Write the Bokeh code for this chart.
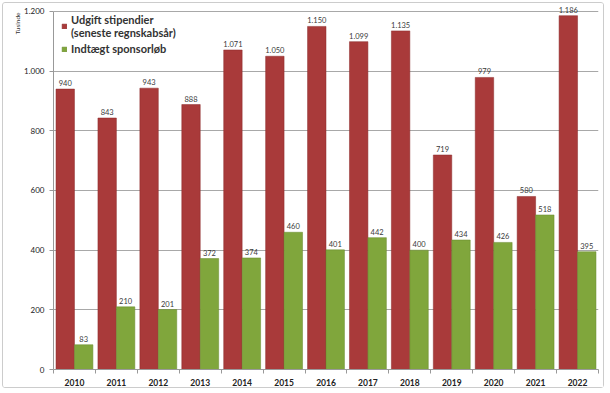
import numpy as np
from bokeh.plotting import figure
from bokeh.core.properties import value
from bokeh.models import (ColumnDataSource, FixedTicker, Legend, LegendItem, Title,
                          LabelSet, Range1d)
from bokeh.transform import dodge
from bokeh.embed import file_html
from bokeh.resources import INLINE

years = ["2010", "2011", "2012", "2013", "2014", "2015", "2016",
         "2017", "2018", "2019", "2020", "2021", "2022"]
udgift = [940, 843, 943, 888, 1071, 1050, 1150, 1099, 1135, 719, 979, 580, 1186]
indtaegt = [83, 210, 201, 372, 374, 460, 401, 442, 400, 434, 426, 518, 395]
y_ticks = [0, 200, 400, 600, 800, 1000, 1200]

def dk(v):
    return f"{v:,}".replace(",", ".")

RED = "#A93A3A"
GREEN = "#80A63C"
FONT = "Lato"

xs = list(np.arange(1, len(years) + 1))
src = ColumnDataSource(dict(
    x=xs, u=udgift, i=indtaegt,
    ul=[dk(v) for v in udgift], il=[dk(v) for v in indtaegt],
))

# frame extends slightly above 1200 so the top bar label is not clipped
p = figure(width=602, height=386, output_backend="svg", toolbar_location=None,
           x_range=Range1d(0.5, len(years) + 0.5), y_range=Range1d(0, 1226.8),
           min_border_left=50, min_border_right=7, min_border_top=0, min_border_bottom=20)
p.outline_line_color = None
p.background_fill_color = "white"
p.margin = (2, 2, 2, 2)
p.styles = {"border": "1px solid #cccccc", "border-radius": "3px"}

r1 = p.vbar(x=dodge("x", -0.22), top="u", width=0.44, source=src,
            fill_color=RED, line_color="#8a2a2a", line_width=0.5)
r2 = p.vbar(x=dodge("x", 0.22), top="i", width=0.44, source=src,
            fill_color=GREEN, line_color="#66882c", line_width=0.5)

for col, lab, off in (("u", "ul", -0.22), ("i", "il", 0.22)):
    p.add_layout(LabelSet(x=dodge("x", off), y=col, text=lab, source=src, y_offset=3,
                          text_align="center", text_baseline="bottom",
                          text_font_size="7.5px", text_color="#3a3a3a",
                          text_font=value(FONT)))

# axes
p.xaxis.ticker = FixedTicker(ticks=xs, minor_ticks=[x - 0.5 for x in xs] + [xs[-1] + 0.5])
p.xaxis.major_label_overrides = {int(x): y for x, y in zip(xs, years)}
p.xaxis.major_tick_out = 0
p.xaxis.major_tick_in = 0
p.xaxis.minor_tick_out = 4
p.xaxis.minor_tick_in = 0
p.xaxis.major_label_standoff = 5
p.xaxis.major_label_text_font_size = "8.5px"
p.xaxis.major_label_text_font_style = "bold"
p.xaxis.major_label_text_font = FONT
p.xaxis.major_label_text_color = "#222222"
p.xaxis.axis_line_color = "#999999"
p.xaxis.minor_tick_line_color = "#999999"

p.yaxis.ticker = FixedTicker(ticks=y_ticks)
p.yaxis.bounds = (0, 1200)
p.yaxis.major_label_overrides = {t: dk(t) for t in y_ticks}
p.yaxis.major_tick_out = 4
p.yaxis.major_tick_in = 0
p.yaxis.minor_tick_line_color = None
p.yaxis.major_label_text_font_size = "8px"
p.yaxis.major_label_text_font = FONT
p.yaxis.major_label_text_color = "#222222"
p.yaxis.axis_line_color = "#999999"
p.yaxis.major_tick_line_color = "#999999"
p.yaxis.major_label_standoff = 5

p.xgrid.grid_line_color = None
p.ygrid.grid_line_color = "#a8a8a8"
p.ygrid.grid_line_width = 1
p.ygrid.bounds = (0, 1200)

p.add_layout(Title(text="Tusinde", align="right", offset=9, standoff=2,
                   text_font_size="6.5px", text_font=FONT, text_font_style="normal",
                   text_color="#333333"), "left")

legend = Legend(items=[
    LegendItem(label="Udgift stipendier\n(seneste regnskabsår)", renderers=[r1]),
    LegendItem(label="Indtægt sponsorløb", renderers=[r2]),
], location=(8, 314))
legend.label_text_font = FONT
legend.label_text_font_style = "bold"
legend.label_text_font_size = "11px"
legend.label_text_color = "#333333"
legend.glyph_width = 6
legend.glyph_height = 6
legend.label_standoff = 4
legend.spacing = 3
legend.padding = 5
legend.margin = 0
legend.label_height = 12
legend.border_line_color = None
legend.background_fill_alpha = 1
p.add_layout(legend)

open("out.html", "w").write(file_html(p, INLINE))
